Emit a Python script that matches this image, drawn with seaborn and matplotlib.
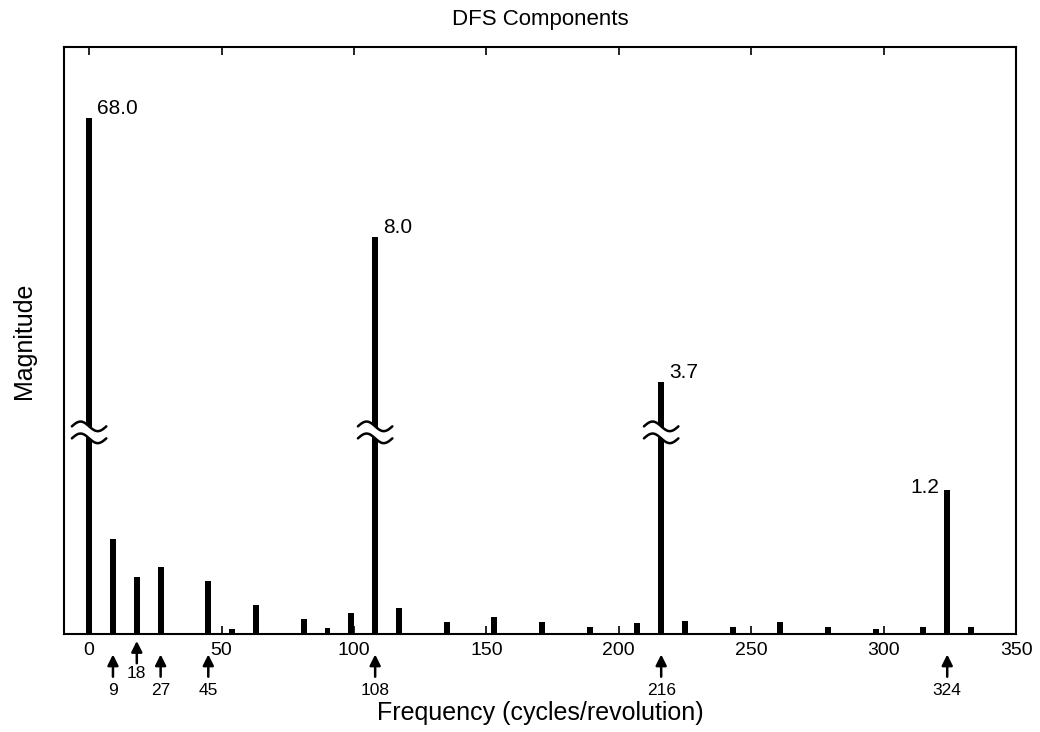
import numpy as np
import pandas as pd
import matplotlib
matplotlib.use("Agg")
import matplotlib.pyplot as plt
import matplotlib.transforms as mtransforms
import seaborn as sns

# frequencies (cycles/revolution) and drawn bar heights (arbitrary, broken axis)
freqs = [0, 9, 18, 27, 45, 54, 63, 81, 90, 99, 108, 117, 126, 135, 153, 171,
         189, 207, 216, 225, 234, 243, 261, 279, 297, 315, 324, 333]
heights = [4.30, 0.79, 0.475, 0.56, 0.44, 0.04, 0.24, 0.125, 0.05, 0.175, 3.31,
           0.22, 0.01, 0.10, 0.14, 0.10, 0.06, 0.09, 2.10, 0.11, 0.01, 0.06,
           0.10, 0.06, 0.04, 0.06, 1.20, 0.06]

# labelled peaks
peak_freqs = [0, 108, 216, 324]
peak_labels = ["68.0", "8.0", "3.7", "1.2"]
broken_freqs = [0, 108, 216]

# arrow markers under the axis
arrow_freqs = [9, 18, 27, 45, 108, 216, 324]
arrow_labels = ["9", "18", "27", "45", "108", "216", "324"]

xticks = [0, 50, 100, 150, 200, 250, 300, 350]

sns.set_style("white")
plt.rcParams['font.family'] = ['Liberation Sans', 'DejaVu Sans']
plt.rcParams['text.color'] = 'black'
plt.rcParams['axes.labelcolor'] = 'black'
plt.rcParams['xtick.color'] = 'black'
plt.rcParams['axes.edgecolor'] = 'black'

df = pd.DataFrame({"freq": freqs, "mag": heights})

fig = plt.figure(figsize=(10.4, 7.32), dpi=100)
ax = fig.add_axes([0.0615, 0.134, 0.9155, 0.8015])

sns.barplot(data=df, x="freq", y="mag", native_scale=True, width=0.25,
            color="black", saturation=1, edgecolor="black", linewidth=0, ax=ax)

ax.set_xlim(-9.5, 350)
ax.set_ylim(0, 4.89)
ax.set_yticks([])
ax.set_xticks(xticks)
ax.set_xticklabels([str(t) for t in xticks], fontsize=14)
ax.tick_params(axis="x", direction="in", length=6, width=1.2, top=True,
               bottom=True, pad=6, colors="black")
for s in ax.spines.values():
    s.set_linewidth(1.5)
    s.set_color("black")

# value labels
h = dict(zip(freqs, heights))
for f, lab in zip(peak_freqs, peak_labels):
    if f == 324:
        ax.text(f - 3, h[f] + 0.02, lab, ha="right", va="center", fontsize=15)
    else:
        ax.text(f + 3, h[f] + 0.08, lab, ha="left", va="center", fontsize=15)

# axis break marks
def draw_break(ax, x0, y0):
    t = np.linspace(0, 2 * np.pi, 60)
    xs = x0 + np.linspace(-6.5, 6.5, 60)
    wave = 0.04 * np.sin(t)
    upper = y0 + 0.05 + wave
    lower = y0 - 0.05 + wave
    ax.fill_between(xs, lower, upper, color="white", zorder=5, lw=0)
    ax.plot(xs, upper, color="black", lw=1.8, zorder=6, solid_capstyle="round")
    ax.plot(xs, lower, color="black", lw=1.8, zorder=6, solid_capstyle="round")

for f in broken_freqs:
    draw_break(ax, f, 1.68)

# arrows below the axis
trans = mtransforms.blended_transform_factory(ax.transData, ax.transAxes)
for f, lab in zip(arrow_freqs, arrow_labels):
    if f == 18:
        tip, base, ty = -0.012, -0.050, -0.068
    else:
        tip, base, ty = -0.035, -0.073, -0.097
    ax.annotate("", xy=(f, tip), xytext=(f, base), xycoords=trans,
                textcoords=trans, annotation_clip=False,
                arrowprops=dict(arrowstyle="-|>", color="black", lw=1.8,
                                mutation_scale=16, shrinkA=0, shrinkB=0))
    ax.text(f, ty, lab, transform=trans, ha="center", va="center", fontsize=12.5)

ax.set_title("DFS Components", fontsize=16, pad=16)
ax.set_xlabel("Frequency (cycles/revolution)", fontsize=18, labelpad=30)
ax.set_ylabel("Magnitude", fontsize=18, labelpad=20)

fig.savefig("out.png", dpi=100, facecolor="white")
